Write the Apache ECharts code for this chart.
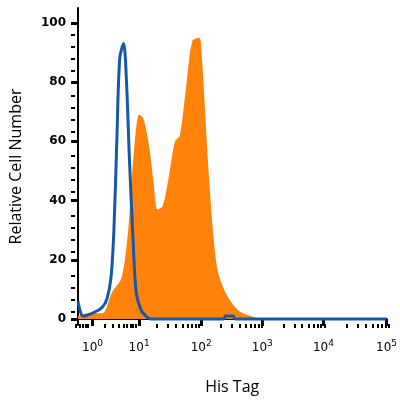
<!DOCTYPE html><html><head><meta charset="utf-8">
<script src="https://cdn.jsdelivr.net/npm/echarts@6/dist/echarts.min.js"></script>
<style>html,body{margin:0;background:#fff}#c{width:400px;height:400px}</style></head><body><div id="c"></div>
<script>
// x in display units of the biexponential axis (0 = left edge)
const decadePos=[15,63,127,190,253,318];
const decadeLabels=['0','1','2','3','4','5'];
const yTicks=[0,20,40,60,80,100];
const orange=[[0,1],[10,2],[25,2],[35,9],[45,14],[52,31],[57,54],[63,69],[67,68],[73,59],[78,46],[82,37],[87,38],[92,45],[100,60],[105,62],[112,80],[118,94],[125,95],[128,87],[135,48],[143,18],[152,9],[165,3],[178,1],[190,0],[318,0]];
const blue=[[0,6],[2,3],[5,1],[15,2],[25,4],[30,7],[34,14],[37,30],[40,60],[43,88],[47,93],[50,80],[53,54],[57,25],[60,9],[65,3],[70,1],[75,0],[150,0],[152,1],[160,1],[162,0],[318,0]];
const minorPos=[];
for(let d=0;d<5;d++){for(let k=2;k<10;k++){minorPos.push(decadePos[d]+(decadePos[d+1]-decadePos[d])*Math.log10(k));}}
for(let k=2;k<10;k++){const p=15-(48)*(1-Math.log10(k));if(p>0)minorPos.push(p);}
const yMinor=[];for(let v=0;v<=100;v+=4)if(v%20)yMinor.push(v);
const ch=echarts.init(document.getElementById('c'));
const axL={lineStyle:{color:'#000',width:2}};
ch.setOption({animation:false,
grid:[{left:75,right:8,top:8,bottom:70},{left:75,right:8,top:8,bottom:70}],
xAxis:[{type:'value',min:0,max:318,gridIndex:0,axisLine:axL,splitLine:{show:false},
 axisTick:{customValues:decadePos,length:7,lineStyle:{width:3,color:'#000'}},
 axisLabel:{customValues:decadePos,formatter:v=>'10{s|'+decadeLabels[decadePos.indexOf(v)]+'}',fontFamily:'DejaVu Sans',fontSize:12,color:'#000',margin:14,rich:{s:{fontSize:9,verticalAlign:'top',padding:[0,0,8,0],color:'#000'}}},
 name:'His Tag',nameLocation:'middle',nameGap:54,nameTextStyle:{fontFamily:'Open Sans',fontSize:16,color:'#000'}},
 {type:'value',min:0,max:318,gridIndex:1,axisLine:{show:false},splitLine:{show:false},axisLabel:{show:false},
 axisTick:{customValues:minorPos,length:4,lineStyle:{width:2,color:'#000'}}}],
yAxis:[{type:'value',min:-2,max:105,gridIndex:0,axisLine:axL,splitLine:{show:false},
 axisTick:{customValues:yTicks,length:7,lineStyle:{width:3,color:'#000'}},
 axisLabel:{customValues:yTicks,fontFamily:'DejaVu Sans',fontWeight:'bold',fontSize:12,color:'#000',margin:12},
 name:'Relative Cell Number',nameLocation:'middle',nameGap:54,nameTextStyle:{fontFamily:'Open Sans',fontSize:16,color:'#000'}},
 {type:'value',min:-2,max:105,gridIndex:1,axisLine:{show:false},splitLine:{show:false},axisLabel:{show:false},
 axisTick:{customValues:yMinor,length:4,lineStyle:{width:2,color:'#000'}}}],
series:[
{type:'line',data:orange,smooth:0.3,symbol:'none',lineStyle:{width:0},areaStyle:{color:'#FF820A',opacity:1}},
{type:'line',data:blue,smooth:0.3,symbol:'none',lineStyle:{width:3,color:'#1458AA'}}
]});
</script></body></html>
